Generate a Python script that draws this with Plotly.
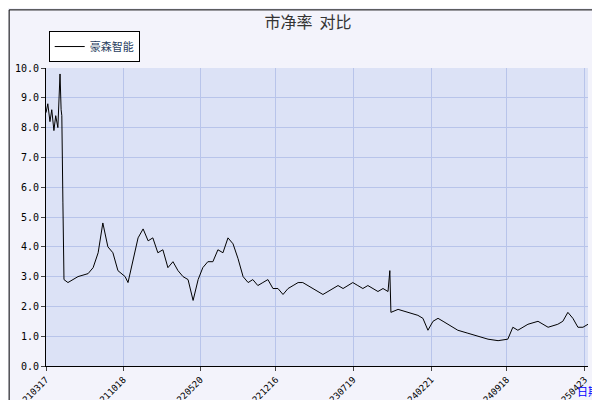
import plotly.graph_objects as go

dates = ["2021-03-17","2021-03-22","2021-03-28","2021-04-02","2021-04-08","2021-04-13","2021-04-19","2021-04-22","2021-04-25","2021-04-28","2021-04-30","2021-05-03","2021-05-06",
"2021-05-17","2021-06-14","2021-07-12","2021-07-26","2021-08-09","2021-08-22","2021-09-05","2021-09-19","2021-10-03","2021-10-23",
"2021-10-31","2021-11-14","2021-11-28","2021-12-12","2021-12-26","2022-01-08","2022-01-22","2022-02-05","2022-02-19","2022-03-05",
"2022-03-19","2022-04-02","2022-04-16","2022-04-30","2022-05-14","2022-05-27","2022-06-10","2022-06-24","2022-07-08","2022-07-22",
"2022-08-05","2022-08-19","2022-09-02","2022-09-16","2022-09-30","2022-10-13","2022-10-27","2022-11-10","2022-11-24","2022-12-08",
"2022-12-22","2023-01-05","2023-01-19","2023-02-02","2023-02-16","2023-03-01","2023-03-15","2023-03-29","2023-04-12","2023-04-26",
"2023-05-10","2023-05-24","2023-06-07","2023-06-21","2023-07-05","2023-07-18","2023-08-01","2023-08-15","2023-08-29","2023-09-12",
"2023-09-26","2023-10-10","2023-10-24","2023-10-29","2023-10-30","2023-11-01","2023-11-21","2023-12-18","2024-01-15","2024-01-29",
"2024-02-12","2024-02-26","2024-03-11","2024-03-25","2024-04-08","2024-05-05","2024-06-02","2024-06-30","2024-07-28","2024-08-25",
"2024-09-21","2024-10-05","2024-10-19","2024-11-16","2024-12-14","2025-01-11","2025-02-07","2025-02-21","2025-03-07","2025-03-21",
"2025-04-04","2025-04-18","2025-05-02"]
values = [8.5,8.8,8.2,8.6,7.9,8.4,8.0,9.0,9.8,8.6,8.4,5.5,2.9,
2.8,3.0,3.1,3.3,3.8,4.8,4.0,3.8,3.2,3.0,
2.8,3.5,4.3,4.6,4.2,4.3,3.8,3.9,3.3,3.5,
3.2,3.0,2.9,2.2,2.9,3.3,3.5,3.5,3.9,3.8,
4.3,4.1,3.6,3.0,2.8,2.9,2.7,2.8,2.9,2.6,
2.6,2.4,2.6,2.7,2.8,2.8,2.7,2.6,2.5,2.4,
2.5,2.6,2.7,2.6,2.7,2.8,2.7,2.6,2.7,2.6,
2.5,2.6,2.5,3.2,2.4,1.8,1.9,1.8,1.7,1.6,
1.2,1.5,1.6,1.5,1.4,1.2,1.1,1.0,0.9,0.85,
0.9,1.3,1.2,1.4,1.5,1.3,1.4,1.5,1.8,1.6,
1.3,1.3,1.4]
tick_dates = ["2021-03-17","2021-10-18","2022-05-20","2022-12-16","2023-07-19","2024-02-21","2024-09-18","2025-04-23"]
tick_labels = ["20210317","20211018","20220520","20221216","20230719","20240221","20240918","20250423"]
series_name = "豪森智能"

fig = go.Figure(go.Scatter(x=dates, y=values, mode="lines", name=series_name,
                           line=dict(color="black", width=1)))
font = "DejaVu Sans Mono"
fig.update_layout(
    width=600, height=400, margin=dict(l=38, r=20, t=60, b=42, autoexpand=False),
    paper_bgcolor="#f3f3fb", plot_bgcolor="#dce2f6",
    title=dict(text="市净率  对比", x=0.5, y=0.965, xanchor="center", yanchor="middle",
               font=dict(family="Noto Sans CJK SC", size=16, color="#333")),
    showlegend=True,
    legend=dict(x=0.005, y=1.02, xanchor="left", yanchor="bottom", bgcolor="white", itemwidth=30,
                bordercolor="black", borderwidth=1, font=dict(family="Noto Sans CJK SC", size=11)),
    xaxis=dict(type="date", range=["2021-03-17","2025-05-02"], tickvals=tick_dates, ticktext=tick_labels,
               tickangle=-45, tickfont=dict(family=font, size=9, color="black"),
               showgrid=True, gridcolor="#b8c4ea", showline=True, linecolor="black", ticks="outside", ticklen=4),
    yaxis=dict(range=[0, 10], dtick=1, tickformat=".1f", tickfont=dict(family=font, size=10, color="black"),
               showgrid=True, gridcolor="#b8c4ea", showline=True, linecolor="black", ticks="outside", ticklen=4,
               zeroline=False),
    annotations=[dict(text="日期", x=1.0, y=-0.05, xref="paper", yref="paper", xanchor="center", yanchor="top",
                      showarrow=False, font=dict(family="Noto Sans CJK SC", size=11, color="blue"))],
    shapes=[dict(type="rect", xref="paper", yref="paper", x0=-0.068, x1=1.03, y0=-0.135, y1=1.195,
                 line=dict(color="black", width=1))],
)
fig.write_html("out.html")
